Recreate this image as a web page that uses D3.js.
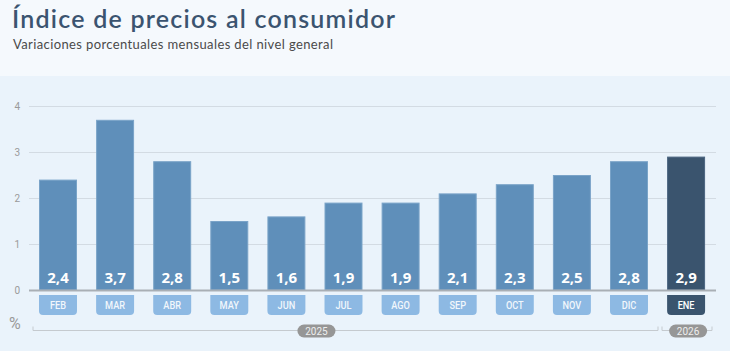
<!DOCTYPE html>
<html>
<head>
<meta charset="utf-8">
<script src="https://cdn.jsdelivr.net/npm/d3@7"></script>
<style>
  html, body { margin: 0; padding: 0; background: #f5f9fd; }
  svg { display: block; }
</style>
</head>
<body>
<svg id="chart" width="730" height="351"></svg>
<script>
// Monthly CPI variation (%), Feb 2025 - Jan 2026
const months = ['FEB', 'MAR', 'ABR', 'MAY', 'JUN', 'JUL', 'AGO', 'SEP', 'OCT', 'NOV', 'DIC', 'ENE'];
const values = [2.4, 3.7, 2.8, 1.5, 1.6, 1.9, 1.9, 2.1, 2.3, 2.5, 2.8, 2.9];
const years = ['2025', '2025', '2025', '2025', '2025', '2025', '2025', '2025', '2025', '2025', '2025', '2026'];
const yTicks = [0, 1, 2, 3, 4];

const svg = d3.select('#chart');
const W = 730, H = 351;

// Header + chart panel backgrounds
svg.append('rect').attr('width', W).attr('height', 76).attr('fill', '#f5f9fd');
svg.append('rect').attr('y', 76).attr('width', W).attr('height', H - 76).attr('fill', '#eaf3fb');

svg.append('text')
  .attr('x', 12).attr('y', 28)
  .attr('font-family', 'Lato, sans-serif')
  .attr('font-size', 25)
  .attr('font-weight', 600)
  .attr('fill', '#3b5470')
  .attr('textLength', 383)
  .text('Índice de precios al consumidor');

svg.append('text')
  .attr('x', 13).attr('y', 49)
  .attr('font-family', 'Lato, sans-serif')
  .attr('font-size', 13)
  .attr('fill', '#4a4a4a')
  .attr('textLength', 320)
  .text('Variaciones porcentuales mensuales del nivel general');

// Scales
const step = 57.1;
const x = d3.scaleBand()
  .domain(months)
  .range([39 - 9.55, 39 - 9.55 + step * months.length])
  .paddingInner(0.335)
  .paddingOuter(0.1675);

const y = d3.scaleLinear().domain([0, 4]).range([290, 106]);

const gridX0 = 29, gridX1 = 716;

// Gridlines
svg.append('g').selectAll('line')
  .data(yTicks.filter(d => d > 0))
  .join('line')
  .attr('x1', gridX0).attr('x2', gridX1)
  .attr('y1', d => y(d) + 0.5).attr('y2', d => y(d) + 0.5)
  .attr('stroke', '#d3dbe3').attr('stroke-width', 1);

// Y labels
svg.append('g').selectAll('text')
  .data(yTicks)
  .join('text')
  .attr('x', 20).attr('y', d => y(d) + 3.5)
  .attr('text-anchor', 'end')
  .attr('font-family', 'Roboto, sans-serif')
  .attr('font-size', 10)
  .attr('fill', '#9a9a9a')
  .text(d => d);

const isLast = (d, i) => i === months.length - 1;

// Bars
svg.append('g').selectAll('rect')
  .data(values)
  .join('rect')
  .attr('x', (d, i) => x(months[i]) + 0.5)
  .attr('y', d => y(d) + 0.5)
  .attr('width', x.bandwidth() - 1)
  .attr('height', d => y(0) - y(d) - 0.5)
  .attr('fill', (d, i) => isLast(d, i) ? '#3a546e' : '#5f8fba')
  .attr('stroke', (d, i) => isLast(d, i) ? '#4b6580' : '#7aa3c8')
  .attr('stroke-width', 1);

// Zero line
svg.append('line')
  .attr('x1', gridX0).attr('x2', gridX1)
  .attr('y1', y(0) + 0.5).attr('y2', y(0) + 0.5)
  .attr('stroke', '#a9afb5').attr('stroke-width', 2);

// Value labels
svg.append('g').selectAll('text')
  .data(values)
  .join('text')
  .attr('x', (d, i) => x(months[i]) + x.bandwidth() / 2)
  .attr('y', 283)
  .attr('text-anchor', 'middle')
  .attr('font-family', '"Open Sans", sans-serif')
  .attr('font-size', 15)
  .attr('font-weight', 700)
  .attr('fill', '#fff')
  .text(d => d3.format('.1f')(d).replace('.', ','));

// Month boxes (square top, rounded bottom)
function tabPath(x0, y0, w, h, r) {
  return `M${x0},${y0}H${x0 + w}V${y0 + h - r}Q${x0 + w},${y0 + h} ${x0 + w - r},${y0 + h}` +
    `H${x0 + r}Q${x0},${y0 + h} ${x0},${y0 + h - r}Z`;
}
const tabs = svg.append('g');
months.forEach((m, i) => {
  const cx = x(m) + x.bandwidth() / 2;
  tabs.append('path')
    .attr('d', tabPath(x(m), 295, x.bandwidth(), 20, 4))
    .attr('fill', i === months.length - 1 ? '#3a546e' : '#8db9e3');
  tabs.append('text')
    .attr('x', cx)
    .attr('y', 309.5)
    .attr('text-anchor', 'middle')
    .attr('font-family', 'Roboto, sans-serif')
    .attr('font-size', 11.5)
    .attr('font-weight', 500)
    .attr('fill', i === months.length - 1 ? '#fff' : '#f2f7fc')
    .attr('transform', `translate(${cx},0) scale(0.8,1) translate(${-cx},0)`)
    .text(m);
});

// "%" unit
svg.append('text')
  .attr('x', 9).attr('y', 329)
  .attr('font-family', 'Roboto, sans-serif')
  .attr('font-size', 16)
  .attr('fill', '#9a9a9a')
  .text('%');

// Year brackets
const yearY = 330.5;
const yearGroups = d3.groups(months.map((m, i) => ({ m, yr: years[i] })), d => d.yr);
const bracketRanges = [
  [33, 658],
  [662, 712]
];
yearGroups.forEach(([yr, ms], gi) => {
  const [a, b] = bracketRanges[gi];
  svg.append('path')
    .attr('d', `M${a},${yearY - 4}V${yearY}H${b}V${yearY - 4}`)
    .attr('fill', 'none')
    .attr('stroke', '#c5cacf')
    .attr('stroke-width', 1);
  // pill position
  let cx;
  if (ms.length > 1) {
    const mid = ms[Math.floor(ms.length / 2)].m;
    cx = x(mid) - (x.step() - x.bandwidth()) / 2 + 1.5;
  } else {
    cx = x(ms[0].m) + x.bandwidth() / 2 + 2;
  }
  const pw = 38, ph = 13;
  svg.append('rect')
    .attr('x', cx - pw / 2).attr('y', yearY - ph / 2 + 0.5)
    .attr('width', pw).attr('height', ph)
    .attr('rx', 6.5)
    .attr('fill', '#969696');
  svg.append('text')
    .attr('x', cx).attr('y', yearY + 4.5)
    .attr('text-anchor', 'middle')
    .attr('font-family', 'Roboto, sans-serif')
    .attr('font-size', 10)
    .attr('fill', '#eee')
    .text(yr);
});
</script>
</body>
</html>
